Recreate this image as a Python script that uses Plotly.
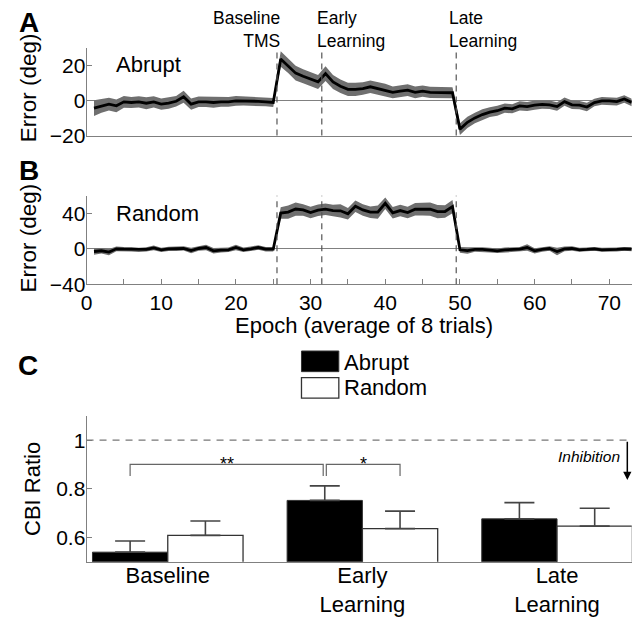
import plotly.graph_objects as go

# ---------------- data ----------------
epochs = list(range(1, 74))

abrupt_mean = [-4.3, -3.0, -2.0, -3.0, -0.7, -1.1, -0.7, -1.5, -0.7, -2.0, -1.5, -0.4, 2.2, -2.0, -0.7,
               -0.7, -1.1, -0.7, -0.7, -0.2, -0.2, -0.2, -0.4, -0.7, -1.1,
               23.8, 20.0, 15.7, 13.9, 12.5, 10.7, 15.4, 10.7, 8.2, 6.4, 6.4, 6.9, 7.9, 6.9, 6.0,
               4.7, 5.4, 6.0, 4.7, 5.4, 4.7, 4.5, 4.5, 4.5,
               -16.3, -12.4, -9.9, -8.0, -6.6, -5.8, -4.3, -4.7, -3.0, -3.4, -2.6, -2.2, -2.4, -3.4,
               -0.6, -2.4, -2.6, -3.7, -1.1, -0.2, -0.2, -0.6, 0.9, -1.1]
abrupt_sem = [4.5, 4.0, 3.6, 3.6, 3.4, 3.2, 3.2, 3.4, 3.2, 3.2, 3.2, 3.0, 3.4, 3.2, 3.0,
              3.0, 3.0, 2.8, 2.8, 2.8, 2.6, 2.6, 2.6, 2.6, 2.6,
              4.4, 4.2, 4.2, 4.0, 4.0, 4.0, 4.2, 4.0, 3.8, 3.8, 3.8, 3.6, 3.6, 3.6, 3.6,
              3.4, 3.4, 3.4, 3.4, 3.2, 3.2, 3.2, 3.2, 3.2,
              3.4, 3.2, 3.0, 3.0, 2.8, 2.8, 2.6, 2.6, 2.6, 2.6, 2.6, 2.4, 2.4, 2.4,
              2.4, 2.4, 2.4, 2.4, 2.2, 2.2, 2.2, 2.2, 2.2, 2.2]

random_mean = [-3.0, -2.2, -3.7, 0.0, -0.4, -0.4, -1.1, -0.7, 1.1, -1.1, 0.0, 0.0, 0.4, -1.9, 0.4,
               1.5, -2.2, -1.5, -1.1, 1.5, -1.1, 0.0, 1.5, -0.4, -0.4,
               40.4, 41.5, 45.0, 44.0, 41.0, 43.7, 44.8, 43.3, 43.0, 39.6, 48.1, 44.0, 41.5, 41.5,
               51.5, 40.7, 43.3, 41.0, 44.8, 44.8, 44.8, 42.2, 42.2, 47.8,
               -1.1, -1.9, -0.7, -0.7, -1.5, -2.2, -1.1, -0.7, -0.4, 1.5, -2.2, -0.7, 0.4, -3.0,
               0.0, 0.4, -1.1, -0.7, 0.0, -1.1, -1.1, -0.7, 0.0, -0.4]
random_sem = [3.6, 3.2, 3.6, 2.6, 2.6, 2.6, 2.4, 2.4, 2.6, 2.4, 2.4, 2.4, 2.4, 3.2, 2.6,
              3.2, 3.2, 2.6, 2.6, 3.2, 2.6, 2.6, 2.6, 2.6, 2.6,
              6.5, 7.5, 7.5, 6.5, 6.5, 6.5, 6.5, 6.5, 7.5, 6.5, 6.5, 6.5, 6.5, 7.5,
              6.5, 6.5, 6.5, 6.5, 7.0, 7.0, 7.5, 7.5, 7.0, 7.5,
              3.2, 3.6, 2.6, 2.6, 2.6, 2.6, 2.6, 2.6, 2.6, 3.8, 3.0, 2.6, 2.6, 4.2,
              2.6, 2.6, 2.2, 2.2, 2.2, 2.2, 2.2, 2.2, 2.2, 2.2]

event_epochs = [25.5, 31.5, 49.5]
event_labels = ["Baseline<br>TMS", "Early<br>Learning", "Late<br>Learning"]

epoch_ticks = list(range(0, 75, 5))
epoch_ticktext = [str(t) if t % 10 == 0 else "" for t in epoch_ticks]

bar_categories = ["Baseline", "Early<br>Learning", "Late<br>Learning"]
cbi_abrupt = [0.539, 0.752, 0.676]
cbi_abrupt_err = [0.046, 0.060, 0.067]
cbi_random = [0.608, 0.636, 0.646]
cbi_random_err = [0.059, 0.072, 0.074]

# ---------------- helpers ----------------
W, H = 635, 625
FONT = "Liberation Sans, Arial, Helvetica, sans-serif"
AX = "#808080"


def pxx(x):
    return x / W


def pxy(y):
    return 1 - y / H


XDOM = [pxx(81.3), pxx(631.7)]
DOM_A = [pxy(138.0), pxy(49.0)]
DOM_B = [pxy(289.3), pxy(199.3)]
DOM_C = [pxy(571.7), pxy(423.3)]

fig = go.Figure()


def add_band(mean, sem, xa, ya):
    upper = [m + s for m, s in zip(mean, sem)]
    lower = [m - s for m, s in zip(mean, sem)]
    fig.add_trace(go.Scatter(x=epochs + epochs[::-1], y=upper + lower[::-1], fill="toself",
                             fillcolor="#6f6f6f", line=dict(width=0), mode="lines",
                             hoverinfo="skip", xaxis=xa, yaxis=ya))
    fig.add_trace(go.Scatter(x=epochs, y=mean, mode="lines", line=dict(color="black", width=2.8),
                             xaxis=xa, yaxis=ya))


add_band(abrupt_mean, abrupt_sem, "x", "y")
add_band(random_mean, random_sem, "x2", "y2")

# bars
bw = 0.3868
pos = [1, 2, 3]
fig.add_trace(go.Bar(x=[p - bw / 2 for p in pos], y=cbi_abrupt, width=bw,
                     marker=dict(color="black", line=dict(color="#333", width=1)),
                     error_y=dict(type="data", array=cbi_abrupt_err, arrayminus=[0] * 3, symmetric=False,
                                  color="#444", thickness=1.6, width=15),
                     xaxis="x3", yaxis="y3"))
fig.add_trace(go.Bar(x=[p + bw / 2 for p in pos], y=cbi_random, width=bw,
                     marker=dict(color="white", line=dict(color="#333", width=1.3)),
                     error_y=dict(type="data", array=cbi_random_err, arrayminus=[0] * 3, symmetric=False,
                                  color="#444", thickness=1.6, width=15),
                     xaxis="x3", yaxis="y3"))

tickfont = dict(family=FONT, size=21, color="black")
common_y = dict(showline=True, linecolor=AX, linewidth=1, ticks="inside", ticklen=5, tickcolor=AX,
                showgrid=False, tickfont=tickfont, zeroline=True, zerolinecolor=AX, zerolinewidth=1,
                ticklabelstandoff=-4)
fig.update_layout(
    width=W, height=H, margin=dict(l=0, r=0, t=0, b=0),
    paper_bgcolor="white", plot_bgcolor="white", showlegend=False, barmode="overlay",
    xaxis=dict(domain=XDOM, range=[0, 73], showline=True, linecolor=AX, showticklabels=False,
               ticks="", showgrid=False, zeroline=False, anchor="y"),
    yaxis=dict(domain=DOM_A, range=[-20, 30], tickvals=[-20, 0, 20], anchor="x", **common_y),
    xaxis2=dict(domain=XDOM, range=[0, 73], showline=True, linecolor=AX, tickvals=epoch_ticks,
                ticktext=epoch_ticktext, ticks="inside", ticklen=5, tickcolor=AX, showgrid=False,
                zeroline=False, tickfont=tickfont, anchor="y2"),
    yaxis2=dict(domain=DOM_B, range=[-40, 60], tickvals=[-40, 0, 40], anchor="x2", **common_y),
    xaxis3=dict(domain=XDOM, range=[0.5827, 3.3837], showline=True, linecolor=AX, tickvals=pos,
                ticktext=bar_categories, ticks="", showgrid=False, zeroline=False,
                tickfont=dict(family=FONT, size=22, color="black"), anchor="y3", ticklabelstandoff=-6),
    yaxis3=dict(domain=DOM_C, range=[0.5, 1.1], tickvals=[0.6, 0.8, 1.0], ticktext=["0.6", "0.8", "1"],
                showline=True, linecolor=AX, ticks="inside", ticklen=5, tickcolor=AX, showgrid=False,
                zeroline=False, tickfont=tickfont, anchor="x3", ticklabelstandoff=-4),
)

shapes = []
for e in event_epochs:
    for xr, yr in (("x", "y domain"), ("x2", "y2 domain")):
        shapes.append(dict(type="line", xref=xr, yref=yr, x0=e, x1=e, y0=0, y1=1,
                           line=dict(color="#555", width=1.2, dash="6px,5px")))
# dashed reference line at CBI ratio = 1
shapes.append(dict(type="line", xref="x3 domain", yref="y3", x0=0, x1=0.9933, y0=1, y1=1,
                   line=dict(color="#777", width=1.2, dash="7px,6px")))
# significance brackets
b_top, b_drop, gap = 0.9, 0.852, 0.008
brackets = [(pos[0] - bw / 2, pos[1] - bw / 2 - gap), (pos[1] - bw / 2 + gap, pos[1] + bw / 2)]
for xa, xb in brackets:
    shapes.append(dict(type="path", xref="x3", yref="y3",
                       path=f"M {xa},{b_drop} L {xa},{b_top} L {xb},{b_top} L {xb},{b_drop}",
                       line=dict(color="#666", width=1.2)))
# legend boxes
shapes.append(dict(type="rect", xref="paper", yref="paper", x0=pxx(298.3), x1=pxx(336), y0=pxy(378.3),
                   y1=pxy(357.3), fillcolor="black", line=dict(color="#333", width=1)))
shapes.append(dict(type="rect", xref="paper", yref="paper", x0=pxx(298.3), x1=pxx(336), y0=pxy(405.3),
                   y1=pxy(384.3), fillcolor="white", line=dict(color="#333", width=1.3)))
fig.update_layout(shapes=shapes)

ann = []


def txt(s, x, y, size, xanchor="center", yanchor="middle", bold=False, italic=False, angle=0, align="center"):
    t = s
    if bold:
        t = f"<b>{t}</b>"
    if italic:
        t = f"<i>{t}</i>"
    ann.append(dict(text=t, x=pxx(x), y=pxy(y), xref="paper", yref="paper", xanchor=xanchor,
                    yanchor=yanchor, showarrow=False, textangle=angle, align=align,
                    font=dict(family=FONT, size=size, color="black")))


# event labels
txt(event_labels[0], 279, 30, 17.5, xanchor="right", align="right")
txt(event_labels[1], 311.7, 30, 17.5, xanchor="left", align="left")
txt(event_labels[2], 445.7, 30, 17.5, xanchor="left", align="left")

txt("Abrupt", 109, 65.8, 22, xanchor="left")
txt("Random", 109, 217.8, 22, xanchor="left")
txt("A", 11, 22.5, 28, xanchor="left", bold=True)
txt("B", 11, 173.5, 28, xanchor="left", bold=True)
txt("C", 10, 372, 28, xanchor="left", bold=True)
txt("Error (deg)", 23, 89, 22.5, angle=-90)
txt("Error (deg)", 23, 242, 22.5, angle=-90)
txt("CBI Ratio", 27.5, 497.5, 22, angle=-90)
txt("Epoch (average of 8 trials)", 361, 331.5, 22)
txt("Abrupt", 339, 369, 22, xanchor="left")
txt("Random", 339, 394.5, 22, xanchor="left")
txt("Inhibition", 622, 464.3, 15.5, xanchor="right", italic=True)

fig.update_layout(annotations=ann)

# significance stars
fig.add_annotation(text="**", x=(brackets[0][0] + brackets[0][1]) / 2, y=0.9, xref="x3", yref="y3",
                   yanchor="middle", yshift=0, showarrow=False, font=dict(family=FONT, size=18, color="black"))
fig.add_annotation(text="*", x=(brackets[1][0] + brackets[1][1]) / 2, y=0.9, xref="x3", yref="y3",
                   yanchor="middle", yshift=0, showarrow=False, font=dict(family=FONT, size=18, color="black"))
# inhibition arrow
fig.add_annotation(text="", x=3.361, y=0.836, ax=3.361, ay=1.0, xref="x3", yref="y3", axref="x3", ayref="y3",
                   showarrow=True, arrowhead=2, arrowsize=1.1, arrowwidth=1.5, arrowcolor="black")

fig.write_html("out.html", config={"displayModeBar": False},
               post_script="document.body.style.margin='0px';document.body.style.overflow='hidden';")
